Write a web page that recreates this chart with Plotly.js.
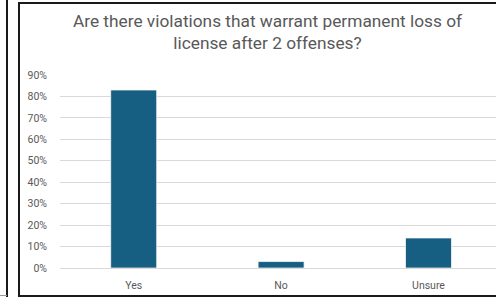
<!DOCTYPE html>
<html>
<head>
<meta charset="utf-8">
<script src="https://cdn.plot.ly/plotly-3.0.1.min.js"></script>
<style>
  html, body { margin: 0; padding: 0; background: #fff; overflow: hidden; width: 496px; height: 297px; }
  ::-webkit-scrollbar { display: none; width: 0; height: 0; }
  #chart { position: absolute; left: 0; top: 0; width: 496px; height: 297px; overflow: hidden; }
  .ln { position: absolute; background: #1a1a1a; z-index: 10; }
</style>
</head>
<body>
<div id="chart"></div>
<div class="ln" style="left:6px; top:0; width:2px; height:297px;"></div>
<div class="ln" style="left:0; top:295px; width:7px; height:1px; background:#9a9a9a;"></div>
<div class="ln" style="left:18px; top:2px; width:2px; height:295px;"></div>
<div class="ln" style="left:18px; top:2px; width:478px; height:2px;"></div>
<div class="ln" style="left:18px; top:295px; width:478px; height:2px;"></div>
<script>
const categories = ["Yes", "No", "Unsure"];
const values = [0.83, 0.03, 0.14];
const tickValues = [0, 0.1, 0.2, 0.3, 0.4, 0.5, 0.6, 0.7, 0.8, 0.9];
const tickLabels = ["0%", "10%", "20%", "30%", "40%", "50%", "60%", "70%", "80%", "90%"];
const titleText = "Are there violations that warrant permanent loss of<br>license after 2 offenses?";

const trace = {
  type: "bar",
  x: categories,
  y: values,
  marker: { color: "#175f82", line: { color: "rgba(255,255,255,0.7)", width: 1 } },
  hoverinfo: "none"
};

const layout = {
  width: 496,
  height: 297,
  margin: { l: 60, r: 0, t: 75, b: 28.5 },
  paper_bgcolor: "#ffffff",
  plot_bgcolor: "#ffffff",
  showlegend: false,
  bargap: 0.688,
  font: { family: "Roboto, 'Open Sans', sans-serif", color: "#595959" },
  title: {
    text: titleText,
    font: { size: 17.3, color: "#595959", family: "Roboto, sans-serif" },
    xref: "container", x: 267.5 / 496, xanchor: "center",
    yref: "container", y: 1 - 27 / 297, yanchor: "top"
  },
  xaxis: {
    type: "category",
    range: [-0.5, 2.458],
    showgrid: false,
    showline: false,
    zeroline: false,
    ticks: "",
    tickfont: { size: 10.5, color: "#595959" },
    ticklabelstandoff: 9
  },
  yaxis: {
    range: [0, 0.9],
    tickvals: tickValues,
    ticktext: tickLabels,
    showgrid: true,
    gridcolor: "#d9d9d9",
    gridwidth: 1,
    zeroline: true,
    zerolinecolor: "#d9d9d9",
    zerolinewidth: 1,
    showline: false,
    ticks: "",
    tickfont: { size: 10.5, color: "#595959" },
    ticklabelstandoff: 12
  }
};

Plotly.newPlot("chart", [trace], layout, { staticPlot: true, displayModeBar: false });
</script>
</body>
</html>
